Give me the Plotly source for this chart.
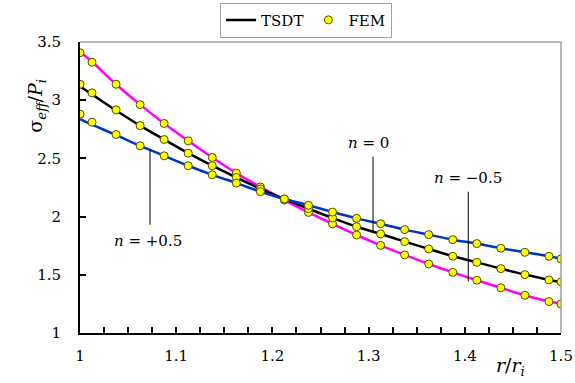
import plotly.graph_objects as go

r = [1.0, 1.0125, 1.0375, 1.0625, 1.0875, 1.1125, 1.1375, 1.1625, 1.1875, 1.2125, 1.2375,
     1.2625, 1.2875, 1.3125, 1.3375, 1.3625, 1.3875, 1.4125, 1.4375, 1.4625, 1.4875, 1.5]

fem_neg = [3.408, 3.326, 3.137, 2.962, 2.800, 2.651, 2.508, 2.374, 2.255, 2.142, 2.036,
           1.937, 1.842, 1.753, 1.671, 1.593, 1.521, 1.453, 1.388, 1.324, 1.270, 1.250]
fem_zero = [3.137, 3.063, 2.917, 2.782, 2.662, 2.545, 2.437, 2.336, 2.237, 2.150, 2.068,
            1.988, 1.913, 1.851, 1.785, 1.722, 1.659, 1.607, 1.553, 1.502, 1.456, 1.439]
fem_pos = [2.880, 2.811, 2.705, 2.608, 2.522, 2.437, 2.359, 2.288, 2.214, 2.152, 2.097,
           2.039, 1.985, 1.939, 1.888, 1.845, 1.802, 1.768, 1.728, 1.693, 1.659, 1.636]

tsdt_neg = [3.417, 3.330, 3.137, 2.962, 2.800, 2.651, 2.508, 2.374, 2.255, 2.142, 2.036,
            1.937, 1.842, 1.753, 1.671, 1.593, 1.521, 1.453, 1.388, 1.324, 1.270, 1.250]
tsdt_zero = [3.117, 3.050, 2.912, 2.782, 2.662, 2.545, 2.437, 2.336, 2.237, 2.150, 2.068,
             1.988, 1.913, 1.851, 1.785, 1.722, 1.659, 1.607, 1.553, 1.502, 1.456, 1.439]
tsdt_pos = [2.837, 2.790, 2.700, 2.608, 2.522, 2.437, 2.359, 2.288, 2.214, 2.152, 2.097,
            2.039, 1.985, 1.939, 1.888, 1.845, 1.802, 1.768, 1.728, 1.693, 1.659, 1.636]

labels = ["<i>n</i> = −0.5", "<i>n</i> = 0", "<i>n</i> = +0.5"]
colors = ["#FF00FF", "#000000", "#0033CC"]

xtick_vals = [1 + 0.025 * k for k in range(21)]
xtick_text = [("%g" % round(v, 3)) if k % 4 == 0 else " " for k, v in enumerate(xtick_vals)]
ytick_vals = [1, 1.5, 2, 2.5, 3, 3.5]
ytick_text = ["1", "1.5", "2", "2.5", "3", "3.5"]

FONT = "DejaVu Serif"

fig = go.Figure()
for ys, c in zip([tsdt_neg, tsdt_zero, tsdt_pos], colors):
    fig.add_trace(go.Scatter(x=r, y=ys, mode="lines", line=dict(color=c, width=2.5, shape="spline"),
                             name="TSDT", showlegend=False, hoverinfo="skip"))
fig.add_trace(go.Scatter(x=[None], y=[None], mode="lines", line=dict(color="black", width=2.5),
                         name="TSDT", showlegend=True))
for i, ys in enumerate([fem_neg, fem_zero, fem_pos]):
    fig.add_trace(go.Scatter(x=r, y=ys, mode="markers",
                             marker=dict(color="#FFFF00", size=8, line=dict(color="#4d4d00", width=1)),
                             name="FEM", showlegend=(i == 0)))

fig.add_shape(type="line", x0=1.3046, x1=1.3046, y0=2.514, y1=1.862, line=dict(color="black", width=1))
fig.add_shape(type="line", x0=1.4036, x1=1.4036, y0=2.214, y1=1.443, line=dict(color="black", width=1))
fig.add_shape(type="line", x0=1.0728, x1=1.0728, y0=2.574, y1=1.93, line=dict(color="black", width=1))

fig.add_annotation(x=1.2994, y=2.634, text=labels[1], showarrow=False, font=dict(family=FONT, size=15, color="black"))
fig.add_annotation(x=1.403, y=2.334, text=labels[0], showarrow=False, font=dict(family=FONT, size=15, color="black"))
fig.add_annotation(x=1.0707, y=1.793, text=labels[2], showarrow=False, font=dict(family=FONT, size=15, color="black"))

fig.add_annotation(xref="paper", yref="paper", x=-0.12, y=0.88, textangle=-90,
                   text="σ<sub><i>eff</i></sub>/<i>P<sub>i</sub></i>", showarrow=False,
                   font=dict(family=FONT, size=19, color="black"))
fig.add_annotation(xref="paper", yref="paper", x=0.93, y=-0.115, yanchor="middle",
                   text="<i>r</i>/<i>r<sub>i</sub></i>", showarrow=False,
                   font=dict(family=FONT, size=19, color="black"))

fig.add_shape(type="line", xref="paper", yref="paper", x0=0, x1=1, y0=1, y1=1, line=dict(color="#A0A0A0", width=1.5))
fig.add_shape(type="line", xref="paper", yref="paper", x0=1, x1=1, y0=0, y1=1, line=dict(color="#A0A0A0", width=1.5))

fig.update_xaxes(range=[1, 1.5], tickmode="array", tickvals=xtick_vals, ticktext=xtick_text,
                 ticks="inside", ticklen=6, tickwidth=1.5, tickcolor="black", ticklabelstandoff=8,
                 showline=True, linecolor="black", linewidth=2, showgrid=False, zeroline=False,
                 tickfont=dict(family=FONT, size=15, color="black"))
fig.update_yaxes(range=[1, 3.5], tickmode="array", tickvals=ytick_vals, ticktext=ytick_text,
                 ticks="inside", ticklen=6, tickwidth=1.5, tickcolor="black", ticklabelstandoff=14,
                 showline=True, linecolor="black", linewidth=2, showgrid=False, zeroline=False,
                 tickfont=dict(family=FONT, size=15, color="black"))

fig.update_layout(width=575, height=383,
                  margin=dict(l=80, r=14, t=42, b=50, autoexpand=False),
                  plot_bgcolor="white", paper_bgcolor="white",
                  legend=dict(orientation="h", x=0.47, xanchor="center", y=1.015, yanchor="bottom",
                              bordercolor="#A0A0A0", borderwidth=1, bgcolor="white",
                              font=dict(family=FONT, size=15, color="black"),
                              itemwidth=30, tracegroupgap=0),
                  showlegend=True)

fig.write_html("out.html")
